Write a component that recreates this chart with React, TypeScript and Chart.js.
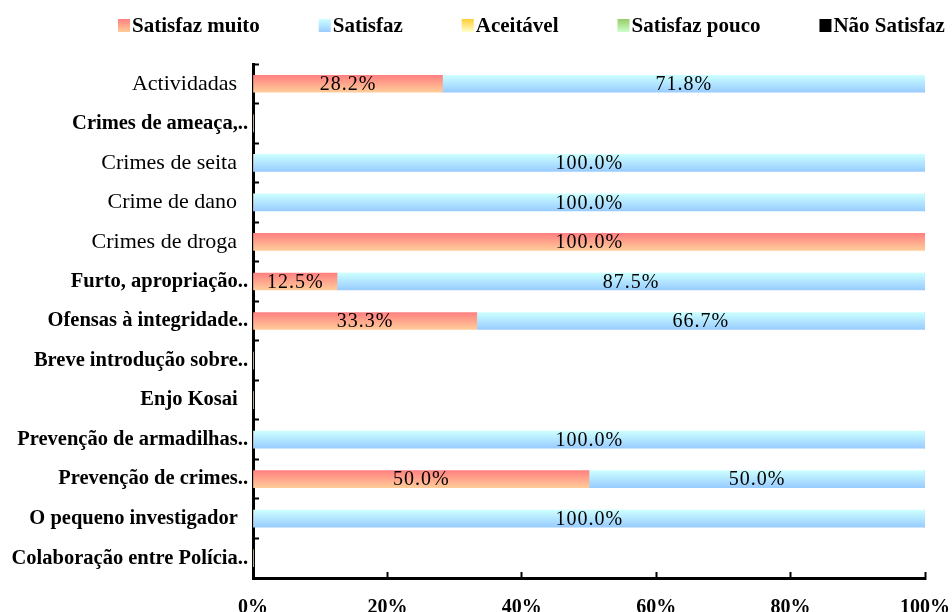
import { useEffect, useRef } from 'react';
import { Chart, registerables } from 'chart.js';

Chart.register(...registerables);

// Topics shown on the vertical axis, top to bottom
const categories = [
  'Actividadas  ',
  'Crimes de ameaça,..',
  'Crimes de seita  ',
  'Crime de dano  ',
  'Crimes de droga  ',
  'Furto, apropriação..',
  'Ofensas à integridade..',
  'Breve introdução sobre..',
  'Enjo Kosai  ',
  'Prevenção de armadilhas..',
  'Prevenção de crimes..',
  'O pequeno investigador  ',
  'Colaboração entre Polícia..',
];

// Share of answers (%) per satisfaction level
const satisfazMuito = [28.2, 0, 0, 0, 100, 12.5, 33.3, 0, 0, 0, 50, 0, 0];
const satisfaz = [71.8, 0, 100, 100, 0, 87.5, 66.7, 0, 0, 100, 50, 100, 0];
const aceitavel = [0, 0, 0, 0, 0, 0, 0, 0, 0, 0, 0, 0, 0];
const satisfazPouco = [0, 0, 0, 0, 0, 0, 0, 0, 0, 0, 0, 0, 0];
const naoSatisfaz = [0, 0, 0, 0, 0, 0, 0, 0, 0, 0, 0, 0, 0];

const seriesNames = ['Satisfaz muito', 'Satisfaz', 'Aceitável', 'Satisfaz pouco', 'Não Satisfaz'];
const seriesValues = [satisfazMuito, satisfaz, aceitavel, satisfazPouco, naoSatisfaz];

// x-axis ticks (percent)
const xTicks = [0, 20, 40, 60, 80, 100];

// top / bottom colour of each series' vertical gradient
const gradientStops: [string, string][] = [
  ['#FF8080', '#FFCC99'],
  ['#CCFFFF', '#99CCFF'],
  ['#FFCC33', '#FFFFCC'],
  ['#99CC66', '#CCFFCC'],
  ['#000000', '#000000'],
];

// category labels drawn in the heavy face
const boldLabels = new Set([1, 5, 6, 7, 8, 9, 10, 11, 12]);

const SERIF = '"Liberation Serif", "Times New Roman", serif';
const BAR = 17;

const barFill = (stops: [string, string]) => (c: any) => {
  const chart = c.chart;
  if (c.type !== 'data' || !chart.chartArea || !chart.scales.y) return stops[1];
  const y = chart.scales.y.getPixelForValue(c.dataIndex);
  const g = chart.ctx.createLinearGradient(0, y - BAR / 2, 0, y + BAR / 2);
  g.addColorStop(0, stops[0]);
  g.addColorStop(1, stops[1]);
  return g;
};

// Percent text centred on every non-empty segment
const valueLabels = {
  id: 'valueLabels',
  afterDatasetsDraw(chart: any) {
    const ctx = chart.ctx as CanvasRenderingContext2D;
    ctx.save();
    ctx.font = `20px ${SERIF}`;
    (ctx as any).letterSpacing = '1px';
    ctx.fillStyle = '#000';
    ctx.textAlign = 'center';
    ctx.textBaseline = 'middle';
    chart.data.datasets.forEach((ds: any, di: number) => {
      const meta = chart.getDatasetMeta(di);
      meta.data.forEach((bar: any, i: number) => {
        const v = ds.data[i];
        if (!v) return;
        const { x, base, y } = bar.getProps(['x', 'base', 'y'], true);
        ctx.fillText(v.toFixed(1) + '%', (x + base) / 2, y + 1);
      });
    });
    ctx.restore();
  },
};

// Single-row legend across the top
const legendRow = {
  id: 'legendRow',
  afterDraw(chart: any) {
    const ctx = chart.ctx as CanvasRenderingContext2D;
    const cy = 26;
    ctx.save();
    ctx.font = `bold 21px ${SERIF}`;
    ctx.textBaseline = 'middle';
    ctx.textAlign = 'left';
    let x = 118;
    chart.data.datasets.forEach((ds: any, i: number) => {
      const stops = gradientStops[i];
      const g = ctx.createLinearGradient(0, cy - 7, 0, cy + 6);
      g.addColorStop(0, stops[0]);
      g.addColorStop(1, stops[1]);
      ctx.fillStyle = g;
      ctx.fillRect(x, cy - 7, 12, 13);
      ctx.fillStyle = '#000';
      ctx.fillText(ds.label, x + 14, cy + 1);
      x += 14 + ctx.measureText(ds.label).width + 59;
    });
    ctx.restore();
  },
};

export default function App() {
  const canvasRef = useRef<HTMLCanvasElement | null>(null);

  useEffect(() => {
    if (!canvasRef.current) return;
    const chart = new Chart(canvasRef.current, {
      type: 'bar',
      data: {
        labels: categories,
        datasets: seriesNames.map((name, i) => ({
          label: name,
          data: seriesValues[i],
          backgroundColor: barFill(gradientStops[i]),
          borderWidth: 0,
          barThickness: BAR,
        })),
      },
      options: {
        indexAxis: 'y',
        animation: false,
        responsive: true,
        maintainAspectRatio: false,
        layout: { padding: { top: 64, right: 27, bottom: 22, left: 0 } },
        plugins: {
          legend: { display: false },
          tooltip: { enabled: false },
        },
        scales: {
          x: {
            stacked: true,
            min: 0,
            max: 100,
            afterBuildTicks: (scale: any) => {
              scale.ticks = xTicks.map((v) => ({ value: v }));
            },
            afterFit: (scale: any) => {
              scale.height = 40;
              scale.paddingLeft = 0;
              scale.paddingRight = 0;
            },
            border: { display: true, color: '#000', width: 3 },
            grid: {
              drawOnChartArea: false,
              drawTicks: true,
              tickLength: -6,
              tickWidth: 2,
              tickColor: '#000',
            },
            ticks: {
              padding: 24,
              color: '#000',
              font: { family: SERIF, size: 20, weight: 'bold' },
              callback: (v: any) => v + '%',
            },
          },
          y: {
            stacked: true,
            afterFit: (scale: any) => {
              scale.width = 253;
              scale.paddingTop = 0;
              scale.paddingBottom = 0;
            },
            border: { display: true, color: '#000', width: 3 },
            grid: {
              drawOnChartArea: false,
              drawTicks: true,
              tickLength: -6,
              tickWidth: 2,
              tickColor: '#000',
            },
            ticks: {
              padding: 11,
              color: '#000',
              autoSkip: false,
              font: (c: any) =>
                boldLabels.has(c.index)
                  ? { family: SERIF, size: 20.5, weight: 'bold' }
                  : { family: SERIF, size: 22 },
            },
          },
        },
      },
      plugins: [valueLabels, legendRow],
    });
    return () => chart.destroy();
  }, []);

  return (
    <div style={{ position: 'fixed', left: 0, top: 0, width: 952, height: 640, background: '#fff' }}>
      <canvas ref={canvasRef} />
    </div>
  );
}
